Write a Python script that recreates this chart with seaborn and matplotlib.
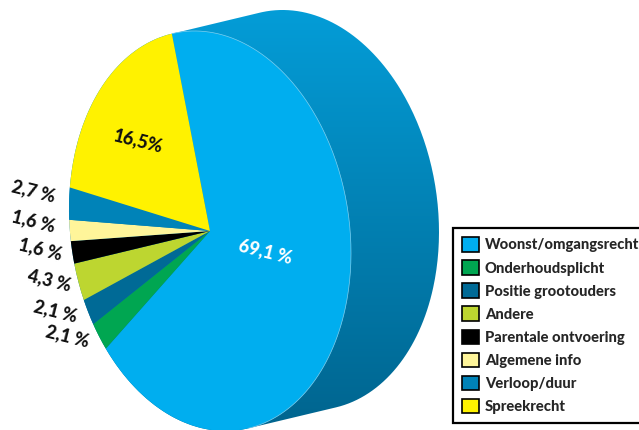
# Pie chart with a fake 3D side, the share labels and a legend on the right
import numpy as np
import seaborn as sns
import matplotlib.pyplot as plt
from matplotlib.patches import Patch, PathPatch
from matplotlib.path import Path
from matplotlib.transforms import Affine2D

categories = ['Woonst/omgangsrecht', 'Onderhoudsplicht', 'Positie grootouders', 'Andere',
              'Parentale ontvoering', 'Algemene info', 'Verloop/duur', 'Spreekrecht']
# slice sizes as drawn in the picture, they differ a little from the printed labels
slice_sizes = [67.6, 2.3, 2.1, 3.0, 1.8, 1.7, 2.6, 18.9]
value_labels = ['69,1 %', '2,1 %', '2,1 %', '4,3 %', '1,6 %', '1,6 %', '2,7 %', '16,5%']
slice_colors = ['#00aeef', '#00a651', '#006a96', '#bdd630', '#000000', '#fff59a', '#0083b8', '#fff200']

W, H = 639, 430
CX, CY = 210, 231      # pie centre, pixels
DX, DY = 88, -21       # offset of the back face, pixels

sns.set_theme(style='white')
plt.rcParams['font.family'] = ['Lato', 'DejaVu Sans']

fig = plt.figure(figsize=(W / 100, H / 100), dpi=100)
ax = fig.add_axes([0, 0, 1, 1])

# the disc is a slanted ellipse: maps the unit circle of the pie to pixels (y down)
disc = Affine2D.from_values(141, 22, 0, -198.8, CX, CY)
to_px = disc + ax.transData

wedges, _ = ax.pie(slice_sizes, colors=sns.color_palette(slice_colors), startangle=105.7,
                   counterclock=False, radius=1, center=(0, 0),
                   wedgeprops={'zorder': 3, 'linewidth': 0})
for w in wedges:
    w.set_transform(to_px)

# outline of the side: hull of the front and back faces, in unit circle coordinates
bx, by = disc.inverted().transform_affine(np.array([[CX + DX, CY + DY]]))[0]
t0 = np.arctan2(by, bx) + np.pi / 2
t = np.linspace(t0 - np.pi, t0, 200)
t2 = np.linspace(t0, t0 + np.pi, 200)
hull = np.column_stack([np.r_[bx + np.cos(t), np.cos(t2)], np.r_[by + np.sin(t), np.sin(t2)]])
side = PathPatch(Path(hull), facecolor='none', edgecolor='none', transform=to_px)
ax.add_patch(side)

# side gets a gradient from light at the top to dark at the bottom
grad = np.linspace(0, 1, 256).reshape(-1, 1)
cmap = sns.blend_palette(['#049ed9', '#00648e'], as_cmap=True)
im = ax.imshow(grad, cmap=cmap, aspect='auto', origin='upper', zorder=1, extent=(0, W, 432, 0))
im.set_clip_path(side)

# thin light rim where the front meets the side
ax.plot(np.cos(t), np.sin(t), color='#7fd0f0', lw=0.5, zorder=4, transform=to_px)

ax.set_aspect('auto')
ax.set_xlim(0, W)
ax.set_ylim(H, 0)
ax.axis('off')

# labels, placed by pixel position
label_pos = [(265, 252), (67, 336), (55, 311), (49, 280), (40, 249), (33, 221), (33, 191), (138, 141)]
label_colors = ['white'] + ['#111111'] * 7
for txt, (px, py), col in zip(value_labels, label_pos, label_colors):
    fig.text(px / W, 1 - py / H, txt, color=col, fontsize=13, fontweight=900,
             rotation=-14, ha='center', va='center', zorder=6)

# legend, its right side runs off the figure
handles = [Patch(facecolor=c, edgecolor='black', linewidth=1.2) for c in slice_colors]
leg = ax.legend(handles, categories, loc='lower left', mode='expand',
                bbox_to_anchor=(453 / W, 1 - 423 / H, 200 / W, 0.1), bbox_transform=fig.transFigure,
                borderaxespad=0, borderpad=0.6, labelspacing=0.53, handlelength=1.15,
                handleheight=1.15, handletextpad=0.42, fancybox=False, framealpha=1,
                edgecolor='black', prop={'weight': 900, 'size': 10.6})
leg.get_frame().set_linewidth(1.6)
leg.set_zorder(7)

fig.savefig('out.png', dpi=100, facecolor='white')
